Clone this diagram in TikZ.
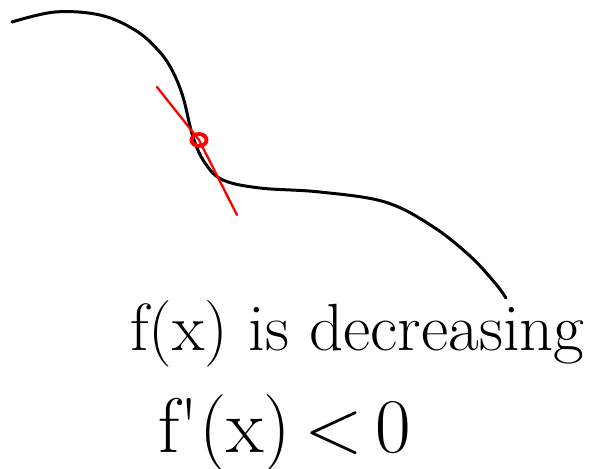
\documentclass[tikz,border=0pt]{standalone}
\usepackage{tikz}
\usetikzlibrary{positioning}
\usetikzlibrary{shapes.geometric}
\usepackage{amsmath}

\begin{document}
\begin{tikzpicture}[
    x=0.02cm, y=-0.02cm,
    curve/.style={line width=1.7pt, line cap=round, black},
    tangent/.style={line width=1.3pt, line cap=round, red},
    point/.style={ellipse, draw=red, line width=2.2pt, minimum width=0.3cm, minimum height=0.24cm, inner sep=0pt},
    hand/.style={inner sep=0pt, anchor=base west}
]
    \useasboundingbox (0,0) rectangle (601,468);

    % the function
    \draw[curve] plot[smooth, tension=0.6] coordinates {
        (12,22) (55,12) (100,15) (135,30) (158,50) (172,70) (183,97)
        (193,137) (205,163) (223,180) (260,188) (320,192) (385,202)
        (432,226) (470,256) (495,283) (506,298)};

    % tangent at the point
    \node[point] (pt) at (199,140) {};
    \coordinate (tanA) at (157,87);
    \coordinate (tanB) at (237,215);
    \draw[tangent] (tanA) -- (pt.center) -- (tanB);

    \node[hand, font=\fontsize{38}{46}\selectfont] (desc) at (130,350) {f(x) is decreasing};
    \node[hand, font=\fontsize{44}{52}\selectfont] (deriv) at (158,452) {f\textquotesingle(x)\,<\,0};
\end{tikzpicture}
\end{document}
